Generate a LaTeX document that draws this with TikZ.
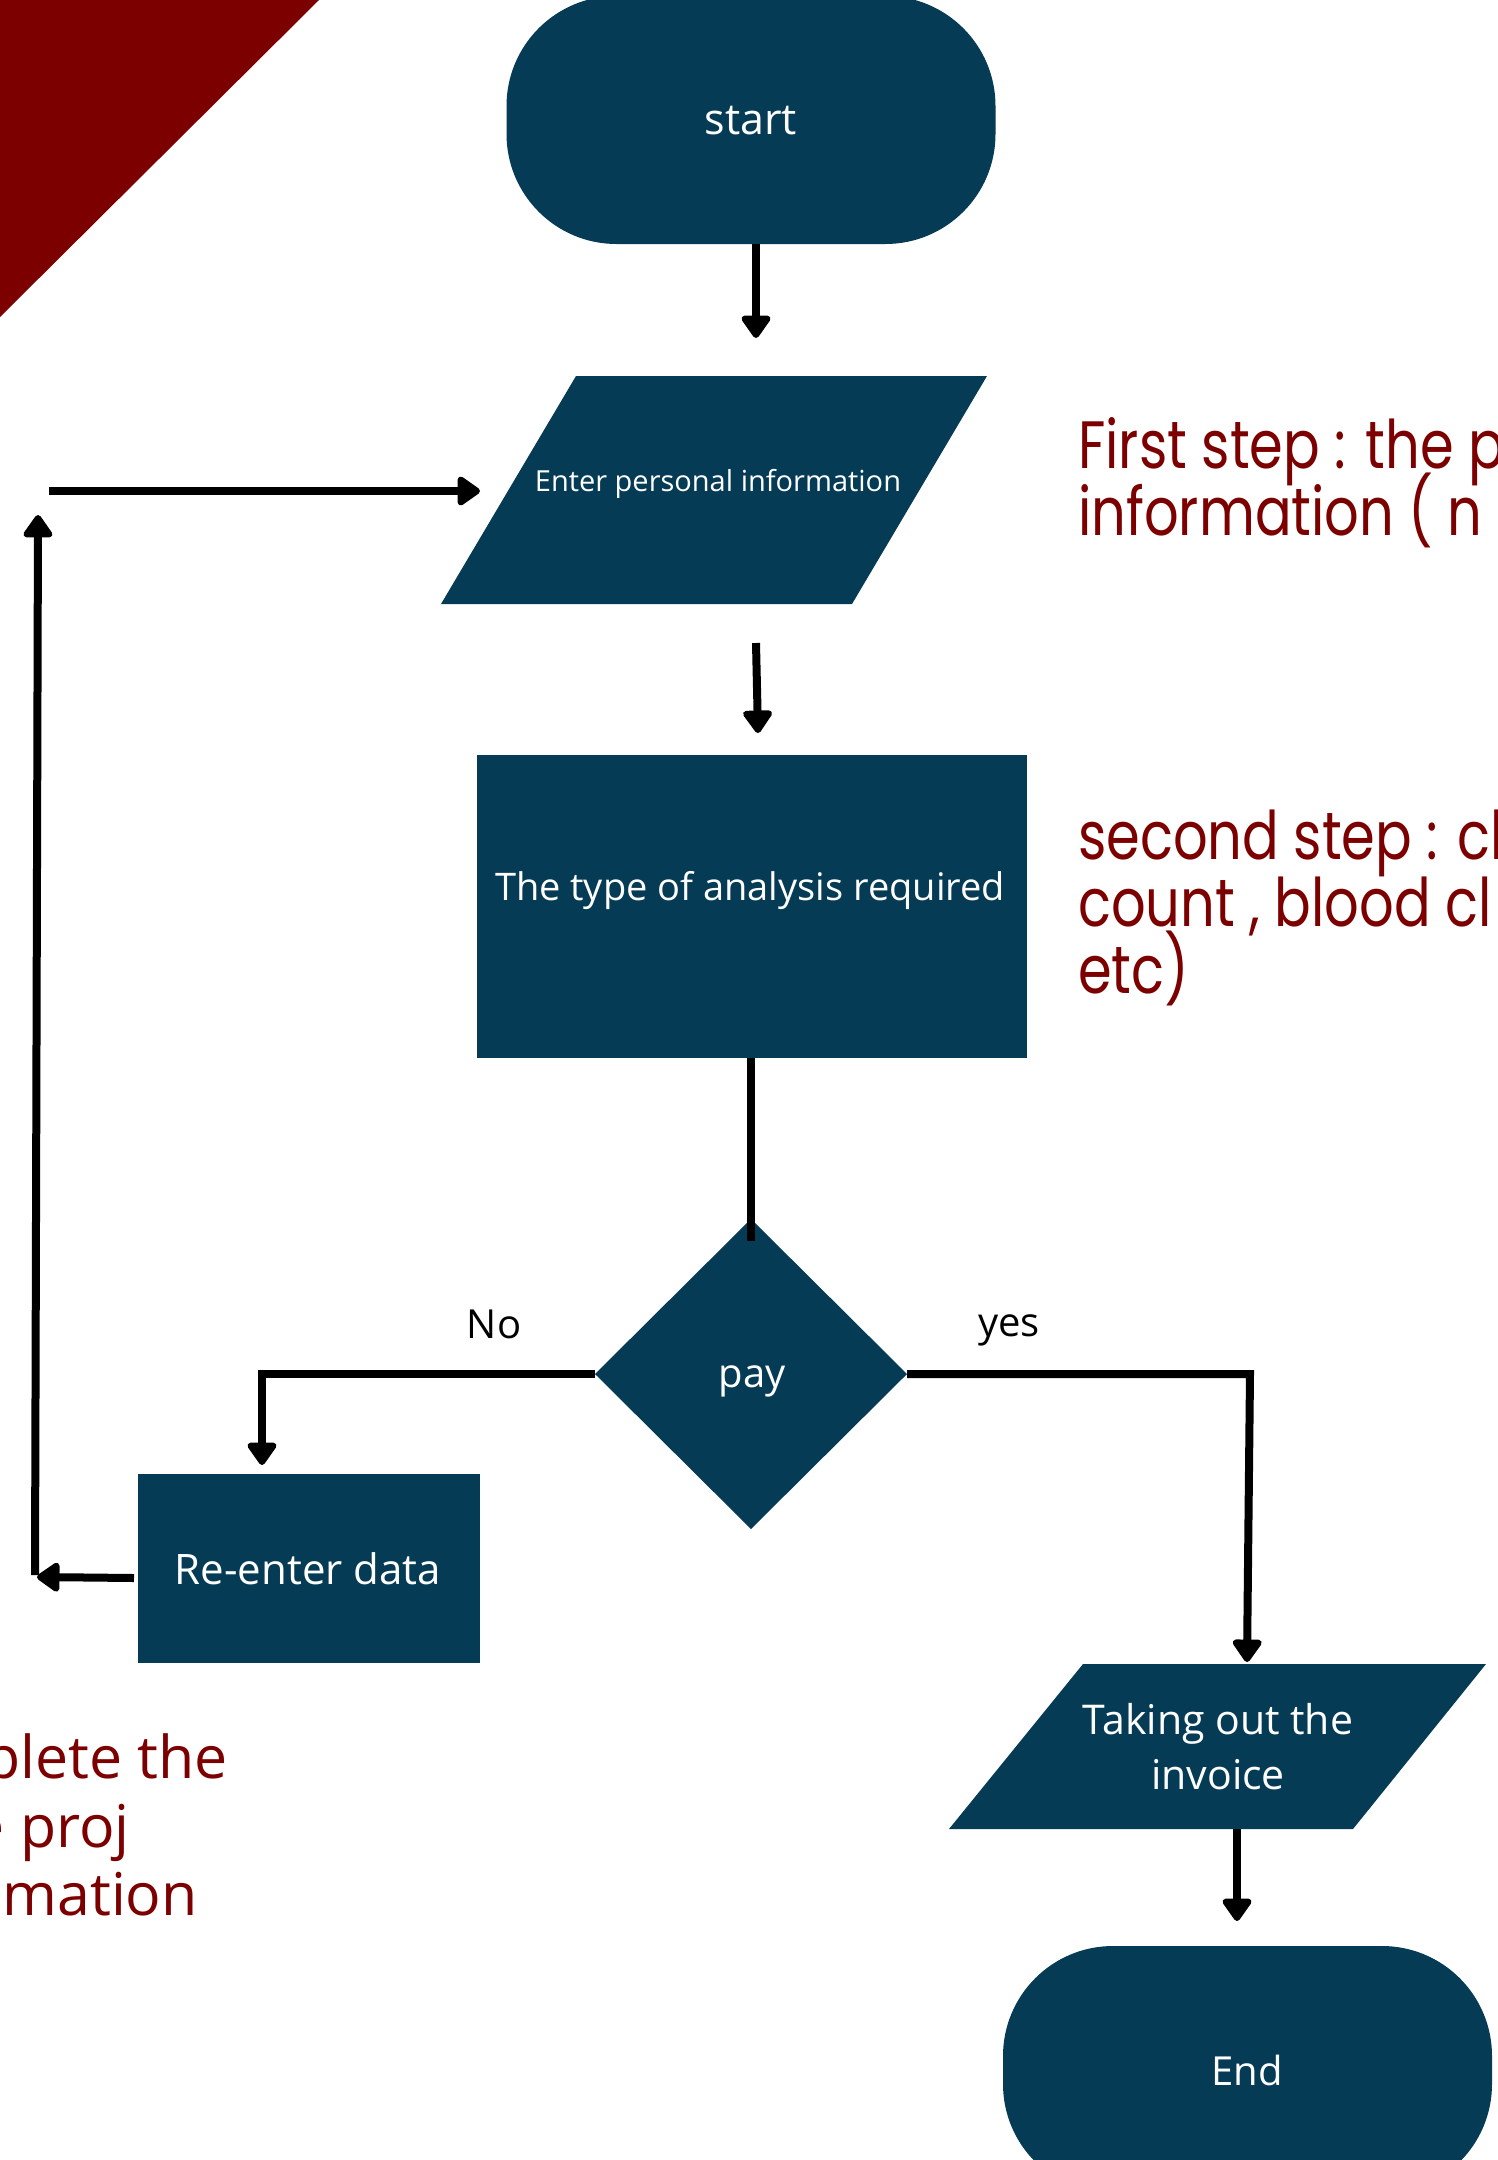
\documentclass[tikz,border=0pt]{standalone}
\usepackage{fontspec}
\setmainfont{Open Sans}
\newfontfamily\redfont{Poppins}[FakeStretch=0.81]
\newfontfamily\lowfont{Open Sans}
\usetikzlibrary{arrows.meta,shapes.geometric}
\definecolor{navy}{HTML}{053B55}
\definecolor{maroon}{HTML}{7D0000}
\begin{document}
\begin{tikzpicture}[x=1pt,y=-1pt,
  shapefill/.style={fill=navy, draw=none, inner sep=0pt, outer sep=0pt},
  wtext/.style={text=white, anchor=base, inner sep=0pt},
  conn/.style={line width=8pt, draw=black},
  arr/.style={conn, -{Triangle[width=33pt,length=25pt,round]}},
  note/.style={text=maroon, anchor=base west, inner sep=0pt, font=\redfont\fontsize{67}{67}\selectfont},
  lownote/.style={text=maroon, anchor=base east, inner sep=0pt, font=\lowfont\fontsize{59}{59}\selectfont},
]
\useasboundingbox (0,0) rectangle (1498,2160);
\clip (0,0) rectangle (1498,2160);
\fill[white] (0,0) rectangle (1498,2160);
\fill[maroon] (0,0) -- (319,0) -- (0,317) -- cycle;

% start
\node[shapefill, rectangle, rounded corners=110pt, minimum width=489pt, minimum height=248pt] (start) at (751,120) {};
\node[wtext, font=\fontsize{43}{50}\selectfont] (startT) at (751,134) {start};

% input parallelogram
\coordinate (i1) at (576,376);
\coordinate (i2) at (987,376);
\coordinate (i3) at (852,604);
\coordinate (i4) at (441,604);
\fill[navy] (i1) -- (i2) -- (i3) -- (i4) -- cycle;
\node[wtext, font=\fontsize{29}{35}\selectfont] (input) at (718,491) {Enter personal information};

% analysis
\node[shapefill, minimum width=550pt, minimum height=303pt] (analysis) at (752,906.5) {};
\node[wtext, font=\fontsize{38}{46}\selectfont] (analysisT) at (750,900) {The type of analysis required};

% decision
\node[shapefill, diamond, minimum width=312pt, minimum height=310pt] (pay) at (751,1374) {};
\node[wtext, font=\fontsize{40}{48}\selectfont] (payT) at (752,1387) {pay};

% re-enter
\node[shapefill, minimum width=342pt, minimum height=189pt] (reenter) at (309,1568.5) {};
\node[wtext, font=\fontsize{42}{50}\selectfont] (reenterT) at (308,1584) {Re-enter data};

% invoice parallelogram
\coordinate (v1) at (1083,1664);
\coordinate (v2) at (1486,1664);
\coordinate (v3) at (1353,1829);
\coordinate (v4) at (949,1829);
\fill[navy] (v1) -- (v2) -- (v3) -- (v4) -- cycle;
\node[wtext, font=\fontsize{41}{49}\selectfont] (invoiceA) at (1218,1734) {Taking out the};
\node[wtext, font=\fontsize{41}{49}\selectfont] (invoiceB) at (1218,1789) {invoice};

% end
\node[shapefill, rectangle, rounded corners=110pt, minimum width=489pt, minimum height=248pt] (end) at (1247.5,2070) {};
\node[wtext, font=\fontsize{40}{48}\selectfont] (endT) at (1247,2085) {End};

% labels
\node[anchor=base, inner sep=0pt, font=\fontsize{40}{48}\selectfont] (no) at (494,1338) {No};
\node[anchor=base, inner sep=0pt, font=\fontsize{40}{48}\selectfont] (yes) at (1009,1336) {yes};

% notes
\node[note] (n1a) at (1078,468) {First step : the p};
\node[note] (n1b) at (1078,535) {information ( n};
\node[note] (n2a) at (1078,859) {second step : cl};
\node[note] (n2b) at (1078,926) {count , blood cl};
\node[note] (n2c) at (1078,993) {etc)};
\node[lownote] (n3a) at (228,1778) {plete the};
\node[lownote] (n3b) at (130,1847) {e proj};
\node[lownote] (n3c) at (198,1915) {mation};

% connector coordinates
\coordinate (a1s) at (756,244);
\coordinate (a1e) at (756,338);
\coordinate (a2s) at (756,643);
\coordinate (a2e) at (758,733);
\coordinate (a3s) at (751,1058);
\coordinate (a3e) at (751,1241);
\coordinate (noL) at (595,1374);
\coordinate (noC) at (262,1374);
\coordinate (noE) at (262,1465);
\coordinate (reS) at (134,1578);
\coordinate (reE) at (37,1577);
\coordinate (upS) at (35,1575);
\coordinate (upE) at (38,515);
\coordinate (rtS) at (49,491);
\coordinate (rtE) at (480,491);
\coordinate (yesR) at (907,1374);
\coordinate (yesC) at (1250,1374);
\coordinate (yesE) at (1247,1662);
\coordinate (a7s) at (1237,1829);
\coordinate (a7e) at (1237,1921);

\draw[arr] (a1s) -- (a1e);
\draw[arr] (a2s) -- (a2e);
\draw[conn] (a3s) -- (a3e);
\draw[arr] (noL) -- (noC) -- (noE);
\draw[arr] (reS) -- (reE);
\draw[arr] (upS) -- (upE);
\draw[arr] (rtS) -- (rtE);
\draw[arr] (yesR) -- (yesC) -- (yesE);
\draw[arr] (a7s) -- (a7e);
\end{tikzpicture}
\end{document}
